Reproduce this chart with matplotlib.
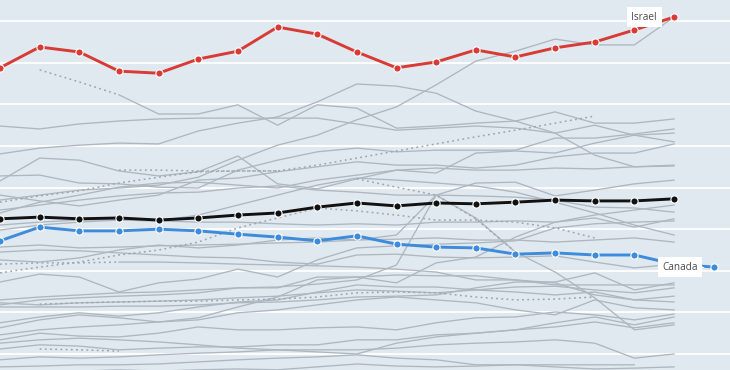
import numpy as np
import matplotlib
matplotlib.use("Agg")
import matplotlib.pyplot as plt
from matplotlib.transforms import offset_copy

# ---------------- data ----------------
years = list(range(2000, 2019))

israel = [78.8, 83.8, 82.6, 78.0, 77.5, 80.9, 82.8, 88.6, 86.9, 82.6,
          78.8, 80.2, 83.1, 81.4, 83.6, 85.0, 87.9, 91.0]
canada = [37.2, 40.5, 39.6, 39.6, 40.0, 39.6, 38.8, 38.1, 37.2, 38.4,
          36.4, 35.7, 35.5, 34.0, 34.3, 33.8, 33.8, 31.6, 30.9]
average = [42.5, 42.9, 42.5, 42.7, 42.2, 42.7, 43.4, 43.9, 45.3, 46.3,
           45.6, 46.3, 46.1, 46.5, 47.0, 46.8, 46.8, 47.3]

N = None
other_01 = [N, 78.3, 75.4, 72.3, 67.7, 67.7, 69.9, 65.0, 69.9, 69.1, 64.3, 64.8, 65.5, 66.0, 68.2, 65.5, 65.5, 66.5]
other_02 = [64.8, 64.1, 65.3, 66.0, 66.5, 66.7, 66.7, 66.7, 66.7, 65.3, 63.8, 64.3, 64.8, 64.3, 63.1, 65.0, 62.6, 61.0]
other_03 = [58.1, 59.5, 60.2, 60.7, 60.5, 63.6, 65.5, 67.0, 70.6, 74.9, 74.4, 72.7, 68.4, 66.0, 63.1, 57.8, 55.0, 55.4]
other_04 = [47.0, 48.2, 49.4, 49.9, 50.6, 52.5, 56.6, 60.2, 62.6, 66.3, 69.4, 74.7, 80.4, 82.8, 85.7, 84.3, 84.3, 91.0]
other_05 = [51.6, 57.1, 56.6, 54.0, 52.8, 53.8, 57.6, 50.9, 49.7, 52.1, 54.2, 53.5, 58.3, 58.8, 58.3, 60.7, 62.6, 63.1]
other_06 = [52.8, 53.0, 51.1, 50.9, 50.1, 49.9, 54.2, 56.6, 58.6, 59.5, 58.6, 59.0, 59.0, 59.0, 61.9, 61.9, 62.9, 64.1]
other_07 = [48.2, 46.8, 45.6, 47.0, 48.2, 51.8, 52.3, 53.8, 55.0, 56.2, 55.4, 55.4, 54.7, 55.4, 57.4, 58.3, 58.3, 60.5]
other_08 = [43.9, 46.5, 48.2, 50.1, 51.1, 51.3, 50.6, 49.9, 51.8, 53.0, 54.2, 54.7, 54.2, 54.2, 54.7, 54.5, 55.0, 55.2]
other_09 = [32.6, 32.1, 33.1, 35.0, 36.2, 35.5, 36.2, 37.4, 37.9, 37.4, 38.6, 48.2, 51.1, 51.3, 48.0, 49.4, 50.9, 51.8]
other_10 = [44.6, 45.8, 47.0, 48.0, 48.7, 48.9, 49.9, 50.4, 49.4, 48.9, 48.2, 48.2, 48.0, 47.7, 47.0, 45.3, 45.1, 44.1]
other_11 = [39.8, 41.0, 41.7, 42.2, 42.0, 43.4, 45.8, 48.2, 50.6, 52.3, 51.8, 51.1, 50.4, 48.9, 46.5, 43.9, 41.0, 38.6]
other_12 = [41.0, 41.7, 42.2, 42.2, 42.0, 41.7, 41.7, 41.3, 41.0, 41.3, 41.0, 41.7, 41.7, 42.0, 41.7, 42.7, 40.5, 42.5]
other_13 = [35.7, 36.2, 35.5, 35.7, 36.0, 36.2, 36.4, 36.7, 36.9, 37.4, 37.6, 37.9, 37.4, 37.4, 36.9, 37.4, 37.9, 36.9]
other_14 = [27.3, 29.2, 28.5, 24.9, 27.1, 28.0, 30.4, 28.5, 32.6, 35.5, 36.0, 36.4, 36.7, 37.2, 40.3, 41.3, 41.7, 42.0]
other_15 = [23.0, 23.7, 24.2, 24.7, 24.9, 25.4, 25.9, 26.1, 26.8, 27.8, 31.4, 48.2, 42.7, 34.5, 29.7, 23.5, 15.8, 17.0]
other_16 = [21.8, 23.0, 23.5, 23.9, 24.2, 24.7, 25.9, 25.9, 28.5, 28.5, 27.1, 31.9, 33.3, 38.1, 41.7, 43.4, 44.6, 45.8]
other_17 = [34.5, 35.0, 34.8, 34.3, 33.8, 33.3, 33.1, 32.1, 31.6, 33.8, 34.0, 33.3, 33.1, 33.3, 33.6, 32.1, 30.7, 31.6]
other_18 = [31.6, 31.9, 31.9, 32.1, 32.1, 31.9, 31.6, 31.4, 31.2, 30.9, 30.4, 29.7, 27.8, 27.8, 26.6, 26.6, 26.6, 26.6]
other_19 = [22.3, 21.8, 22.3, 22.5, 22.7, 23.0, 23.5, 23.9, 24.7, 25.4, 25.1, 24.7, 25.4, 26.1, 26.3, 25.4, 24.7, 25.9]
other_20 = [21.3, 21.3, 21.3, 21.5, 21.5, 21.8, 22.3, 22.5, 23.0, 23.7, 23.9, 24.2, 25.9, 27.3, 27.3, 29.5, 25.4, 27.1]
other_21 = [17.5, 18.9, 19.9, 19.1, 19.9, 21.3, 22.5, 23.0, 24.9, 26.6, 26.1, 26.1, 25.4, 24.9, 24.2, 24.9, 23.0, 23.9]
other_22 = [14.6, 15.8, 16.5, 17.0, 17.7, 18.7, 21.3, 23.7, 27.8, 28.5, 29.0, 28.8, 28.8, 27.8, 27.1, 24.2, 23.0, 22.5]
other_23 = [16.3, 18.2, 19.4, 18.7, 17.7, 18.2, 19.9, 20.6, 21.8, 23.0, 23.7, 23.0, 22.3, 20.6, 19.4, 23.0, 21.1, 20.6]
other_24 = [13.4, 15.0, 14.3, 14.1, 15.0, 16.5, 15.8, 15.8, 16.3, 16.5, 15.8, 17.5, 18.7, 18.9, 20.1, 19.4, 18.2, 19.6]
other_25 = [12.6, 13.4, 13.8, 13.4, 12.9, 12.2, 11.4, 11.0, 10.5, 10.0, 12.6, 14.1, 15.0, 15.8, 17.5, 18.9, 17.0, 18.9]
other_26 = [11.2, 12.2, 11.9, 11.0, 11.4, 11.7, 11.7, 12.2, 12.2, 13.4, 13.4, 14.6, 15.0, 15.8, 16.5, 17.7, 16.3, 17.5]
other_27 = [8.6, 9.3, 9.0, 9.3, 9.8, 10.2, 10.5, 11.0, 11.0, 11.0, 11.4, 12.2, 12.6, 12.9, 13.4, 12.6, 9.0, 10.0]
other_28 = [6.9, 7.1, 7.4, 7.4, 7.6, 8.1, 8.6, 9.0, 9.3, 9.8, 9.0, 8.6, 7.4, 7.4, 7.4, 7.4, 7.4, N]
other_29 = [5.7, 5.7, 5.9, 6.2, 5.9, 6.2, 6.4, 6.2, 6.9, 7.6, 7.1, 6.9, 7.1, 7.4, 6.9, 6.4, 6.6, 6.9]

# series with gaps in the data (drawn dotted)
sparse_01 = [N, N, N, 54.2, 54.2, 54.0, 54.0, 54.0, N, N, N, N, N, N, N, N, N, N]
sparse_02 = [46.5, 48.0, 49.2, 51.1, 52.5, 53.8, 54.0, 54.0, 55.4, 57.1, 58.8, 60.5, 62.2, 63.8, 65.5, 67.2, N, N]
sparse_03 = [N, N, N, N, N, N, N, N, N, 52.1, 50.1, 48.2, 42.5, 34.5, N, N, N, N]
sparse_04 = [29.5, 30.9, 32.1, 33.8, 35.0, 36.9, 40.3, 42.7, 45.1, 44.4, 43.4, 42.2, 42.2, 41.7, 40.3, 37.9, N, N]
sparse_05 = [N, 22.0, 22.3, 22.5, 22.7, 22.7, 23.0, 23.2, 23.7, 24.7, 24.9, 24.7, 23.7, 23.0, 23.2, 23.7, N, N]
sparse_06 = [N, 11.2, 11.0, 10.7, N, N, N, N, N, N, N, N, N, N, N, N, N, N]

solid_others = [other_01, other_02, other_03, other_04, other_05, other_06, other_07,
                other_08, other_09, other_10, other_11, other_12, other_13, other_14,
                other_15, other_16, other_17, other_18, other_19, other_20, other_21,
                other_22, other_23, other_24, other_25, other_26, other_27, other_28,
                other_29]
sparse_others = [sparse_01, sparse_02, sparse_03, sparse_04, sparse_05, sparse_06]
# leading parts of two series that are only sparsely reported
dotted_lead = {0: 3, 17: 3}   # index in solid_others -> last dotted index

def arr(v):
    return np.array([np.nan if x is None else x for x in v], dtype=float)

# ---------------- figure ----------------
BG = "#e1e9f0"
GRAY = "#adb7c0"
DOT = "#9aa5ae"
fig = plt.figure(figsize=(7.3, 3.7), dpi=100)
ax = fig.add_axes([0, 0, 1, 1])
ax.set_facecolor(BG)
fig.patch.set_facecolor(BG)

yrs = np.array(years, dtype=float)
ax.set_xlim(yrs[0], yrs[0] + 730 / 39.65)
ax.set_ylim(6.15, 95.1)
ax.set_xticks([])
ax.set_yticks([])
for s in ax.spines.values():
    s.set_visible(False)

for g in range(10, 100, 10):
    ax.axhline(g, color="white", lw=1.3, zorder=1)

x18 = yrs[:18]
for i, v in enumerate(solid_others):
    y = arr(v)
    if i in dotted_lead:
        k = dotted_lead[i]
        ax.plot(x18[:k + 1], y[:k + 1], color=DOT, lw=1.1,
                ls=(0, (1.2, 2.2)), zorder=2)
        ax.plot(x18[k:], y[k:], color=GRAY, lw=0.95, zorder=2)
    else:
        ax.plot(x18, y, color=GRAY, lw=0.95, zorder=2)

for v in sparse_others:
    ax.plot(x18, arr(v), color=DOT, lw=1.1, ls=(0, (1.2, 2.2)), zorder=2)

mk = dict(marker="o", markersize=5.2, markeredgecolor="white", markeredgewidth=0.8)
ax.plot(x18, average, color="#111111", lw=2.1, zorder=4, markerfacecolor="#111111", **mk)
ax.plot(yrs, canada, color="#3d8bdb", lw=2.1, zorder=5, markerfacecolor="#3d8bdb", **mk)
ax.plot(x18, israel, color="#d83a34", lw=2.1, zorder=5, markerfacecolor="#d83a34", **mk)

# ---------------- labels ----------------
def callout(text, x, y, off):
    ax.annotate(text, xy=(x, y), xytext=(off, 0), textcoords="offset pixels",
                ha="right", va="center", fontsize=7.2, family="Open Sans",
                color="#4a4a4a", zorder=8,
                bbox=dict(boxstyle="square,pad=0.45", fc="white", ec="none"))
    tr = offset_copy(ax.transData, fig=fig, x=off + 3, y=0, units="dots")
    ax.plot([x], [y], marker=">", markersize=5, color="white", mec="none",
            transform=tr, zorder=8)

callout("Israel", yrs[17], israel[-1], -17)
callout("Canada", yrs[18], canada[-1], -16)

fig.savefig("out.png", dpi=100, facecolor=BG)
